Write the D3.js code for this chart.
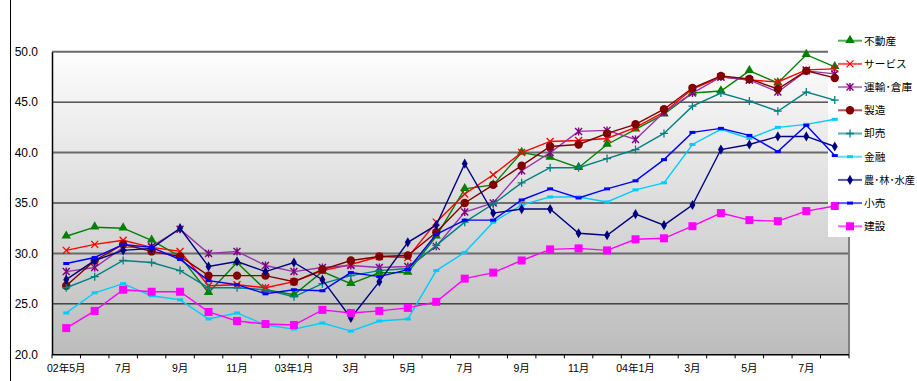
<!DOCTYPE html>
<html><head><meta charset="utf-8">
<script src="https://cdn.jsdelivr.net/npm/d3@7/dist/d3.min.js"></script>
<style>
html,body{margin:0;padding:0;background:#fff;}
svg{display:block;}
text{font-family:"Liberation Sans","Noto Sans CJK JP",Arial,sans-serif;fill:#000;}
</style></head>
<body>
<script>
const categories = ["02年5月","6月","7月","8月","9月","10月","11月","12月","03年1月","2月","3月","4月","5月","6月","7月","8月","9月","10月","11月","12月","04年1月","2月","3月","4月","5月","6月","7月","8月"];
const yTicks = [20,25,30,35,40,45,50];

const fudosan  = [31.7,32.6,32.5,31.3,29.7,26.1,29.1,26.4,25.9,28.2,27.0,28.1,28.1,31.7,36.4,36.8,40.0,39.5,38.5,40.8,42.3,43.8,45.9,46.1,48.1,46.9,49.7,48.5];
const service  = [30.3,30.9,31.3,30.6,30.2,26.8,26.9,26.6,27.2,28.3,28.9,29.7,29.6,33.1,35.9,37.8,40.0,41.1,41.2,41.4,42.5,44.0,46.3,47.5,47.2,47.0,48.2,48.3];
const unyu     = [28.2,28.6,30.6,30.7,32.4,30.0,30.2,28.8,28.2,28.6,28.8,28.6,28.7,30.7,34.1,35.0,38.2,40.0,42.1,42.2,41.3,44.0,45.9,47.5,47.2,46.0,48.1,47.8];
const seizo    = [26.8,29.3,30.9,30.2,29.7,27.8,27.8,27.8,27.2,28.4,29.3,29.7,29.8,32.1,35.0,36.8,38.7,40.6,40.8,41.9,42.8,44.3,46.4,47.6,47.3,46.3,48.1,47.4];
const oroshi   = [26.6,27.7,29.3,29.1,28.3,26.6,26.6,26.4,25.7,27.0,27.8,28.3,28.5,30.8,33.1,34.9,37.0,38.5,38.5,39.4,40.3,41.9,44.6,45.9,45.1,44.1,46.0,45.2];
const kinyu    = [24.1,26.1,27.0,25.8,25.4,23.5,24.1,22.9,22.5,23.1,22.3,23.3,23.5,28.3,30.1,33.1,34.8,35.6,35.6,35.1,36.3,37.0,40.8,42.3,41.4,42.5,42.8,43.3];
const norin    = [27.4,29.3,30.3,30.5,32.5,28.7,29.2,28.2,29.1,27.4,23.6,27.2,31.1,32.8,38.9,34.0,34.4,34.4,32.0,31.8,33.9,32.8,34.8,40.3,40.8,41.6,41.6,40.6];
const kouri    = [29.0,29.6,30.9,30.6,29.4,27.3,26.9,26.0,26.4,26.3,28.1,27.7,28.4,31.9,33.3,33.3,35.3,36.4,35.5,36.4,37.2,39.3,42.0,42.4,41.7,40.1,42.7,39.7];
const kensetsu = [22.6,24.3,26.4,26.2,26.2,24.2,23.3,23.0,22.9,24.4,24.1,24.3,24.6,25.2,27.5,28.1,29.3,30.4,30.5,30.3,31.4,31.5,32.7,34.0,33.3,33.2,34.2,34.7];

const seriesNames = ["不動産","サービス","運輸･倉庫","製造","卸売","金融","農･林･水産","小売","建設"];
const seriesValues = [fudosan,service,unyu,seizo,oroshi,kinyu,norin,kouri,kensetsu];
const seriesColors = ["#008000","#ff0000","#800080","#800000","#008080","#00ccff","#000080","#0000ff","#ff00ff"];
const seriesLineColors = ["#008000","#ff0000","#9933aa","#800000","#008080","#00ccff","#000080","#0000ff","#ff00ff"];
const seriesMarkers = ["triangle","x","asterisk","circle","plus","dash","diamond","dash","square"];

const W = 917, H = 381;
const L = 52, R = 849, T = 51.7, B = 354.3;

const svg = d3.select("body").append("svg").attr("width",W).attr("height",H);

const defs = svg.append("defs");
const grad = defs.append("linearGradient").attr("id","bg").attr("x1",0).attr("y1",0).attr("x2",0).attr("y2",1);
grad.append("stop").attr("offset","0%").attr("stop-color","#fdfdfd");
grad.append("stop").attr("offset","100%").attr("stop-color","#bcbcbc");

const x = d3.scaleBand().domain(categories.map((d,i)=>i)).range([L,R]).padding(0);
const cx = i => x(i) + x.bandwidth()/2;
const y = d3.scaleLinear().domain([20,50]).range([B,T]);

// outer chart border (left)
svg.append("line").attr("x1",10.5).attr("x2",10.5).attr("y1",0).attr("y2",H).attr("stroke","#000").attr("stroke-width",1);

// plot background
svg.append("rect").attr("x",L).attr("y",T).attr("width",R-L).attr("height",B-T).attr("fill","url(#bg)");

// gridlines
yTicks.filter(v=>v>20).forEach(v=>{
  const thick = (v % 10 === 0);
  svg.append("line").attr("x1",L).attr("x2",R).attr("y1",y(v)).attr("y2",y(v))
    .attr("stroke", thick ? "#6a6a6a" : "#000").attr("stroke-width", thick ? 2 : 1);
});
// right edge
svg.append("line").attr("x1",R).attr("x2",R).attr("y1",T).attr("y2",B).attr("stroke","#808080").attr("stroke-width",2);

// y axis
const yAxis = d3.axisLeft(y).tickValues(yTicks).tickSize(0).tickPadding(14).tickFormat(d3.format(".1f"));
const gy = svg.append("g").attr("transform",`translate(${L},0)`).call(yAxis);
gy.select(".domain").attr("stroke","#000").attr("stroke-width",1.5);
gy.selectAll("text").attr("font-size","12px").attr("font-family","'Liberation Sans',Arial,sans-serif");

// x axis
const gx = svg.append("g").attr("transform",`translate(0,${B})`);
gx.append("line").attr("x1",L).attr("x2",R).attr("y1",0.5).attr("y2",0.5).attr("stroke","#000").attr("stroke-width",1.5);
d3.range(categories.length+1).forEach(i=>{
  const xx = i < categories.length ? x(i) : R;
  gx.append("line").attr("x1",xx).attr("x2",xx).attr("y1",0).attr("y2",4).attr("stroke","#000").attr("stroke-width",1);
});
categories.forEach((c,i)=>{
  if(i%2===0){
    gx.append("text").attr("x",cx(i)).attr("y",18).attr("text-anchor","middle")
      .attr("font-size","10.5px").text(c);
  }
});

// legend background
svg.append("rect").attr("x",828).attr("y",20).attr("width",W-828).attr("height",217).attr("fill","#fff");

function drawMarker(g, type, color, px, py){
  switch(type){
    case "triangle":
      g.append("path").attr("d",d3.symbol(d3.symbolTriangle,38)()).attr("transform",`translate(${px},${py-0.5})`).attr("fill",color);
      break;
    case "x":
      g.append("path").attr("d",`M${px-3.5},${py-3.5}L${px+3.5},${py+3.5}M${px-3.5},${py+3.5}L${px+3.5},${py-3.5}`).attr("stroke",color).attr("stroke-width",1.3).attr("fill","none");
      break;
    case "asterisk":
      g.append("path").attr("d",`M${px-3.5},${py-3.5}L${px+3.5},${py+3.5}M${px-3.5},${py+3.5}L${px+3.5},${py-3.5}M${px},${py-4}L${px},${py+4}`).attr("stroke",color).attr("stroke-width",1.4).attr("fill","none");
      break;
    case "circle":
      g.append("circle").attr("cx",px).attr("cy",py).attr("r",4.2).attr("fill",color);
      break;
    case "plus":
      g.append("path").attr("d",`M${px-4},${py}L${px+4},${py}M${px},${py-4}L${px},${py+4}`).attr("stroke",color).attr("stroke-width",1.3).attr("fill","none");
      break;
    case "dash":
      g.append("rect").attr("x",px-3).attr("y",py-1.5).attr("width",6).attr("height",3).attr("fill",color);
      break;
    case "diamond":
      g.append("path").attr("d",d3.symbol(d3.symbolDiamond,30)()).attr("transform",`translate(${px},${py})`).attr("fill",color);
      break;
    case "square":
      g.append("rect").attr("x",px-4).attr("y",py-4).attr("width",8).attr("height",8).attr("fill",color);
      break;
  }
}

// series
const line = d3.line().x((d,i)=>cx(i)).y(d=>y(d));
seriesValues.forEach((vals,k)=>{
  const g = svg.append("g");
  g.append("path").attr("d",line(vals)).attr("fill","none").attr("stroke",seriesLineColors[k]).attr("stroke-width",1.4);
  vals.forEach((v,i)=>drawMarker(g, seriesMarkers[k], seriesColors[k], cx(i), y(v)));
});

// legend
const lg = svg.append("g");
seriesNames.forEach((n,k)=>{
  const ly = 40.7 + k*23.2;
  lg.append("line").attr("x1",838).attr("x2",862).attr("y1",ly).attr("y2",ly).attr("stroke",seriesLineColors[k]).attr("stroke-width",2).attr("stroke-opacity",0.65);
  drawMarker(lg, seriesMarkers[k], seriesColors[k], 850, ly);
  const t = lg.append("text").attr("x",864).attr("y",ly).attr("dy","0.36em").attr("font-size","10.7px").text(n);
  const w = t.node().getComputedTextLength();
  if (864 + w > W - 2) t.attr("textLength", W - 2 - 864).attr("lengthAdjust","spacingAndGlyphs");
});
</script>
</body></html>
